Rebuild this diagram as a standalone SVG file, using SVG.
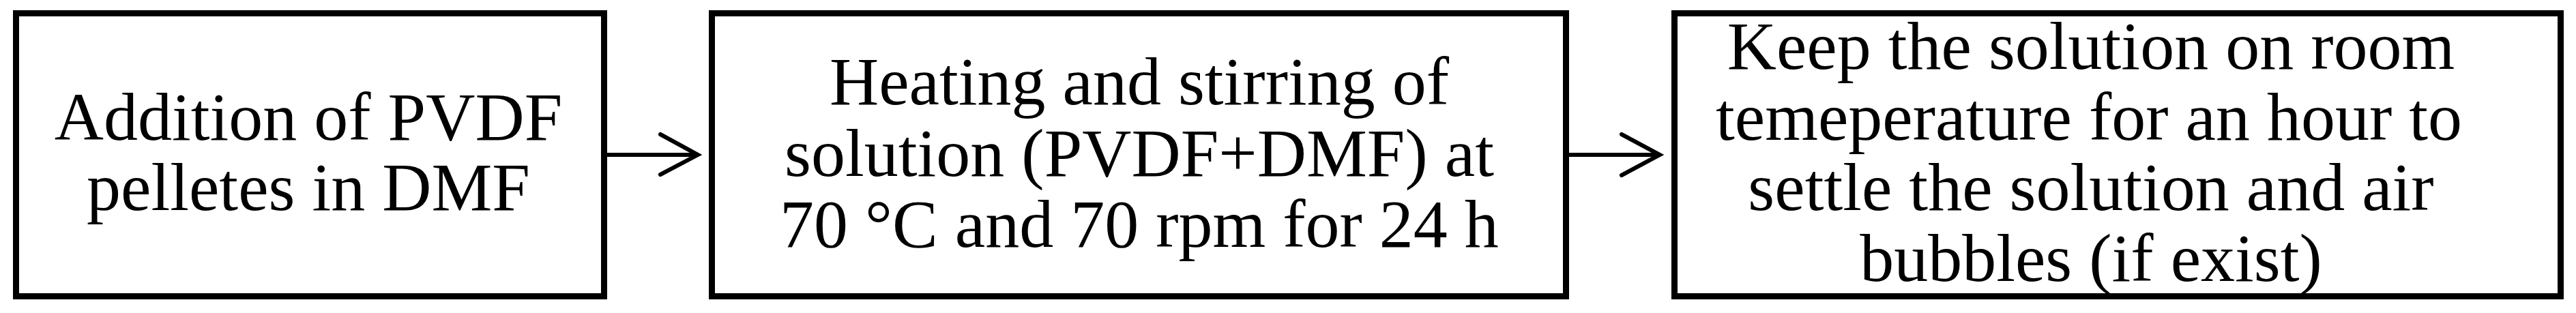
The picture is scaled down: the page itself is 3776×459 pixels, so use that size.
<svg xmlns="http://www.w3.org/2000/svg" width="3776" height="459" viewBox="0 0 3776 459">
<style>
.box{fill:#fff;stroke:#000;stroke-width:9}
.t{font-family:"Liberation Serif","Times New Roman",serif;font-size:100px;fill:#000;text-anchor:middle}
.c{fill:none;stroke:#000;stroke-width:6;stroke-linecap:round;stroke-linejoin:miter}
</style>
<rect width="3776" height="459" fill="#fff"/>
<g id="node1">
<rect class="box" x="23.5" y="19.5" width="862" height="415"/>
<text class="t" x="452" y="205">Addition of PVDF</text>
<text class="t" x="452" y="308">pelletes in DMF</text>
</g>
<g id="node2">
<rect class="box" x="1043.5" y="19.5" width="1252" height="415"/>
<text class="t" x="1670" y="153">Heating and stirring of</text>
<text class="t" x="1670" y="258">solution (PVDF+DMF) at</text>
<text class="t" x="1670" y="362">70 °C and 70 rpm for 24 h</text>
</g>
<g id="node3">
<rect class="box" x="2454.5" y="19.5" width="1299" height="415"/>
<text class="t" x="3065" y="101">Keep the solution on room</text>
<text class="t" x="3062" y="205">temeperature for an hour to</text>
<text class="t" x="3065" y="308">settle the solution and air</text>
<text class="t" x="3065" y="412">bubbles (if exist)</text>
</g>
<g id="connectors">
<path class="c" d="M890 227H1021M968 197L1023 227L968 256"/>
<path class="c" d="M2300 227H2431M2377 197L2433 227L2377 257"/>
</g>
</svg>
